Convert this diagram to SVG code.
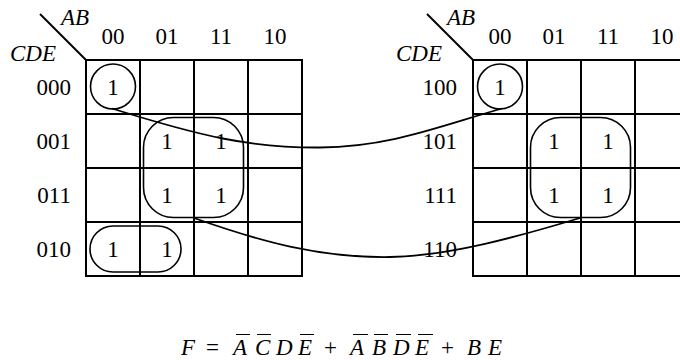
<svg xmlns="http://www.w3.org/2000/svg" width="680" height="360" viewBox="0 0 680 360" font-family="'Liberation Serif', 'Times New Roman', Times, serif">
<style>
text{font-family:'Liberation Serif','Times New Roman',Times,serif;font-size:23px;fill:#000}
.i{font-style:italic}
.m{text-anchor:middle}
.e{text-anchor:end}
.f{font-size:23px}
.g{stroke:#000;stroke-width:2;fill:none}
.lp{stroke:#000;stroke-width:1.6;fill:none}
.c{stroke:#000;stroke-width:1.8;fill:none}
.ob{stroke:#000;stroke-width:1}
</style>
<rect width="680" height="360" fill="#fff"/>
<g id="map-left">
<path class="g" d="M86 60H302V276H86Z M140 60V276 M194 60V276 M248 60V276 M86 114H302 M86 168H302 M86 222H302"/>
<line class="g" x1="40" y1="14" x2="86" y2="60"/>
<text class="i" x="61" y="25">AB</text>
<text class="i" x="10" y="61">CDE</text>
<text class="m" x="113" y="44">00</text>
<text class="m" x="167" y="44">01</text>
<text class="m" x="221" y="44">11</text>
<text class="m" x="275" y="44">10</text>
<text class="e" x="71" y="95">000</text>
<text class="e" x="71" y="149">001</text>
<text class="e" x="71" y="203">011</text>
<text class="e" x="71" y="257">010</text>
<text class="m" x="113" y="95">1</text>
<text class="m" x="167" y="149">1</text>
<text class="m" x="221" y="149">1</text>
<text class="m" x="167" y="203">1</text>
<text class="m" x="221" y="203">1</text>
<text class="m" x="113" y="257">1</text>
<text class="m" x="167" y="257">1</text>
<circle class="lp" cx="113" cy="86.5" r="22.5"/>
<rect class="lp" x="143.5" y="117.5" width="100" height="100" rx="30"/>
<rect class="lp" x="90" y="226" width="91" height="46" rx="23"/>
</g>
<g id="map-right">
<path class="g" d="M680 60H473V276H680 M527 60V276 M581 60V276 M635 60V276 M473 114H680 M473 168H680 M473 222H680"/>
<line class="g" x1="427" y1="14" x2="473" y2="60"/>
<text class="i" x="447" y="25">AB</text>
<text class="i" x="396" y="61">CDE</text>
<text class="m" x="500" y="44">00</text>
<text class="m" x="554" y="44">01</text>
<text class="m" x="608" y="44">11</text>
<text class="m" x="662" y="44">10</text>
<text class="e" x="457" y="95">100</text>
<text class="e" x="457" y="149">101</text>
<text class="e" x="457" y="203">111</text>
<text class="e" x="457" y="257">110</text>
<text class="m" x="500" y="95">1</text>
<text class="m" x="554" y="149">1</text>
<text class="m" x="608" y="149">1</text>
<text class="m" x="554" y="203">1</text>
<text class="m" x="608" y="203">1</text>
<circle class="lp" cx="500" cy="86.5" r="22.5"/>
<rect class="lp" x="530.5" y="117.5" width="100" height="100" rx="30"/>
</g>
<g id="connectors">
<path class="c" d="M112 108.5C200 136 250 148 320 147.5C390 147 440 126 502 108.5"/>
<path class="c" d="M194 218C262 242 320 258 390 257C450 256 520 236 580 218"/>
</g>
<g id="formula">
<text class="i f" x="181" y="355">F</text>
<text class="f" x="206" y="355">=</text>
<text class="i f" x="233" y="355">A</text>
<text class="i f" x="255" y="355">C</text>
<text class="i f" x="276" y="355">D</text>
<text class="i f" x="298" y="355">E</text>
<text class="f" x="324" y="355">+</text>
<text class="i f" x="350" y="355">A</text>
<text class="i f" x="372" y="355">B</text>
<text class="i f" x="393" y="355">D</text>
<text class="i f" x="415" y="355">E</text>
<text class="f" x="441" y="355">+</text>
<text class="i f" x="467" y="355">B</text>
<text class="i f" x="488" y="355">E</text>
<path class="ob" d="M236 334.5H250 M257 334.5H271 M300 334.5H314 M353 334.5H368 M374 334.5H388 M396 334.5H411 M418 334.5H433"/>
</g>
</svg>
